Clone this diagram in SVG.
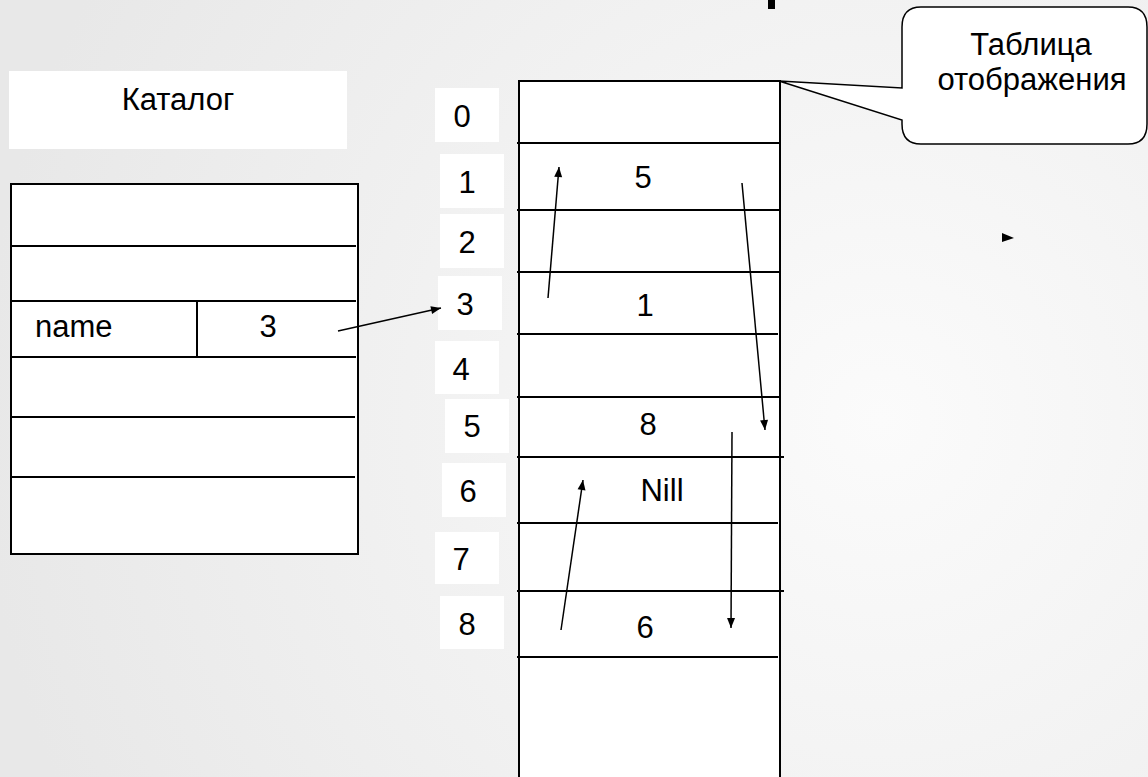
<svg xmlns="http://www.w3.org/2000/svg" width="1148" height="777" viewBox="0 0 1148 777">
<defs>
<radialGradient id="bg" cx="880" cy="420" r="900" gradientUnits="userSpaceOnUse">
<stop offset="0" stop-color="#fbfbfb"/>
<stop offset="1" stop-color="#e8e8e8"/>
</radialGradient>
<marker id="ah" viewBox="0 0 10 10" refX="10" refY="5" markerWidth="11" markerHeight="10" markerUnits="userSpaceOnUse" orient="auto">
<path d="M0,1 L10,5 L0,9 Z" fill="#000"/>
</marker>
</defs>
<style>
text{font-family:"Liberation Sans",Arial,sans-serif;font-size:31px;fill:#000}
.c{text-anchor:middle}
.box{fill:#fff;stroke:none}
.ln{stroke:#000;stroke-width:2;fill:none}
.ar{stroke:#000;stroke-width:1.5;fill:none;marker-end:url(#ah)}
</style>
<rect x="0" y="0" width="1148" height="777" fill="url(#bg)"/>
<rect x="768" y="0" width="7" height="9" fill="#000"/>

<g id="catalog-title">
<rect class="box" x="9" y="71" width="338" height="78"/>
<text class="c" x="178" y="110">Каталог</text>
</g>

<g id="catalog">
<rect x="11" y="184" width="347" height="370" fill="#fff" stroke="#000" stroke-width="2"/>
<line class="ln" x1="10" y1="246" x2="356" y2="246"/>
<line class="ln" x1="10" y1="301" x2="356" y2="301"/>
<line class="ln" x1="10" y1="357" x2="356" y2="357"/>
<line class="ln" x1="10" y1="417" x2="355" y2="417"/>
<line class="ln" x1="10" y1="477" x2="355" y2="477"/>
<line class="ln" x1="197" y1="301" x2="197" y2="357"/>
<text x="35" y="337">name</text>
<text class="c" x="268" y="337">3</text>
</g>

<g id="indices">
<rect class="box" x="435" y="88" width="64" height="54"/><text class="c" x="462" y="127">0</text>
<rect class="box" x="440" y="154" width="64" height="54"/><text class="c" x="467" y="193">1</text>
<rect class="box" x="440" y="214" width="64" height="54"/><text class="c" x="467" y="253">2</text>
<rect class="box" x="438" y="276" width="64" height="54"/><text class="c" x="465" y="315">3</text>
<rect class="box" x="435" y="341" width="64" height="53"/><text class="c" x="461" y="380">4</text>
<rect class="box" x="445" y="399" width="64" height="54"/><text class="c" x="472" y="437">5</text>
<rect class="box" x="442" y="463" width="64" height="54"/><text class="c" x="468" y="502">6</text>
<rect class="box" x="435" y="532" width="64" height="52"/><text class="c" x="461" y="570">7</text>
<rect class="box" x="440" y="596" width="64" height="53"/><text class="c" x="467" y="635">8</text>
</g>

<g id="table">
<rect x="519" y="81" width="261" height="710" fill="#fff" stroke="#000" stroke-width="2"/>
<line class="ln" x1="517" y1="143" x2="780" y2="143"/>
<line class="ln" x1="517" y1="210" x2="780" y2="210"/>
<line class="ln" x1="517" y1="272" x2="780" y2="272"/>
<line class="ln" x1="517" y1="334" x2="778" y2="334"/>
<line class="ln" x1="517" y1="397" x2="780" y2="397"/>
<line class="ln" x1="517" y1="457" x2="784" y2="457"/>
<line class="ln" x1="517" y1="523" x2="778" y2="523"/>
<line class="ln" x1="517" y1="591" x2="784" y2="591"/>
<line class="ln" x1="517" y1="657" x2="778" y2="657"/>
<text class="c" x="643" y="188">5</text>
<text class="c" x="645" y="316">1</text>
<text class="c" x="648" y="435">8</text>
<text class="c" x="662" y="501">Nill</text>
<text class="c" x="645" y="638">6</text>
</g>

<g id="callout">
<path d="M921,7 H1128 Q1147,7 1147,27 V124 Q1147,144 1128,144 H921 Q902,144 902,124 V120 L779,81 L902,88 V27 Q902,7 921,7 Z" fill="#fff" stroke="#000" stroke-width="1.5"/>
<text class="c" x="1031" y="55">Таблица</text>
<text class="c" x="1032" y="90">отображения</text>
</g>

<g id="connectors">
<line class="ar" x1="338" y1="331" x2="441" y2="308"/>
<line class="ar" x1="548" y1="298" x2="559" y2="167"/>
<line class="ar" x1="742" y1="183" x2="765" y2="430"/>
<line class="ar" x1="732" y1="432" x2="731" y2="628"/>
<line class="ar" x1="561" y1="630" x2="583" y2="480"/>
<path d="M1002,233 L1014,238 L1002,242 Z" fill="#000"/>
</g>
</svg>
